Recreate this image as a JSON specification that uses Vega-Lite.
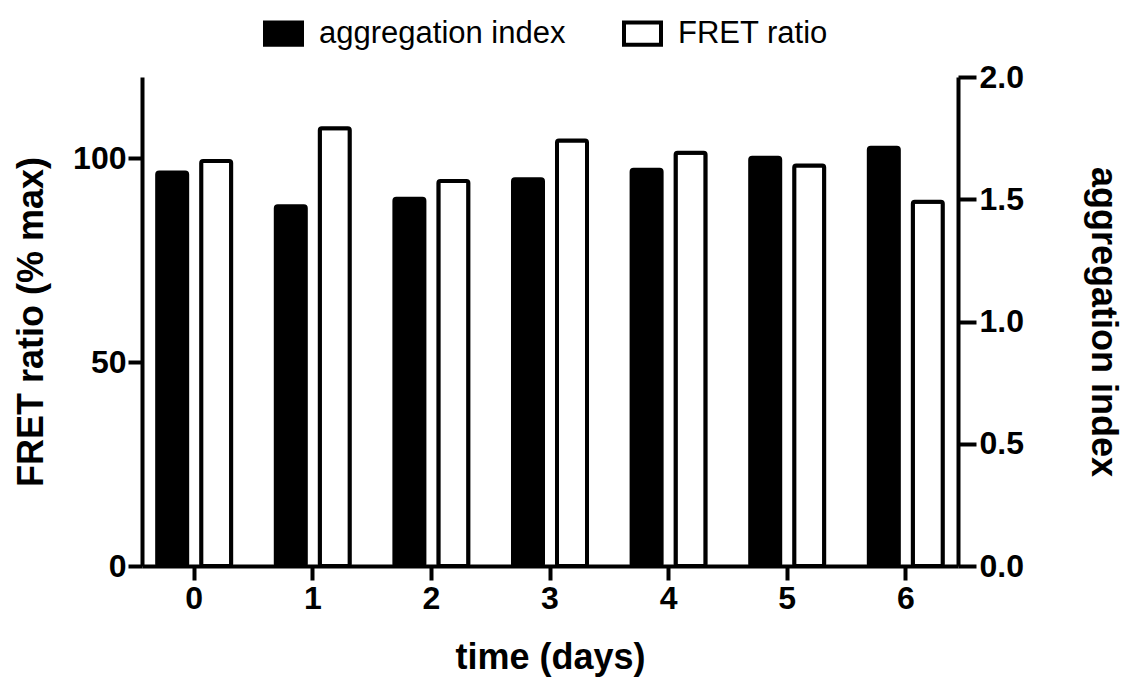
{
  "$schema": "https://vega.github.io/schema/vega-lite/v6.json",
  "autosize": {"type": "none"},
  "width": 816,
  "height": 489,
  "padding": {"left": 142, "top": 77, "right": 173, "bottom": 116},
  "background": "white",
  "config": {
    "view": {"stroke": null},
    "font": "Liberation Sans",
    "axis": {
      "domainColor": "black",
      "domainWidth": 4,
      "tickColor": "black",
      "tickWidth": 4,
      "tickSize": 14,
      "grid": false,
      "labelFont": "Liberation Sans",
      "labelFontWeight": "bold",
      "labelFontSize": 32,
      "labelColor": "black",
      "titleFont": "Liberation Sans",
      "titleFontWeight": "bold",
      "titleFontSize": 36,
      "titleColor": "black"
    },
    "legend": {
      "labelFont": "Liberation Sans",
      "labelFontSize": 31,
      "labelColor": "black",
      "labelLimit": 0,
      "symbolStrokeColor": "black",
      "symbolStrokeWidth": 4,
      "padding": 0
    }
  },
  "data": {
    "values": [
      {"day": 0, "series": "aggregation index", "value": 1.609},
      {"day": 1, "series": "aggregation index", "value": 1.471},
      {"day": 2, "series": "aggregation index", "value": 1.502},
      {"day": 3, "series": "aggregation index", "value": 1.582},
      {"day": 4, "series": "aggregation index", "value": 1.621},
      {"day": 5, "series": "aggregation index", "value": 1.670},
      {"day": 6, "series": "aggregation index", "value": 1.711},
      {"day": 0, "series": "FRET ratio", "value": 99.4},
      {"day": 1, "series": "FRET ratio", "value": 107.4},
      {"day": 2, "series": "FRET ratio", "value": 94.5},
      {"day": 3, "series": "FRET ratio", "value": 104.4},
      {"day": 4, "series": "FRET ratio", "value": 101.4},
      {"day": 5, "series": "FRET ratio", "value": 98.3},
      {"day": 6, "series": "FRET ratio", "value": 89.4}
    ]
  },
  "encoding": {
    "x": {
      "field": "day",
      "type": "ordinal",
      "scale": {"paddingInner": 0.376, "paddingOuter": 0.128},
      "axis": {"title": "time (days)", "labelAngle": 0, "labelPadding": 3, "titlePadding": 26}
    },
    "xOffset": {
      "field": "series",
      "type": "nominal",
      "scale": {"domain": ["aggregation index", "FRET ratio"], "paddingInner": 0.318, "paddingOuter": 0}
    },
    "fill": {
      "field": "series",
      "type": "nominal",
      "scale": {"domain": ["aggregation index", "FRET ratio"], "range": ["black", "white"]},
      "legend": {
        "title": null,
        "orient": "none",
        "direction": "horizontal",
        "legendX": 121,
        "legendY": -64,
        "symbolType": "M-1,-0.6H1V0.6H-1Z",
        "symbolSize": 1369,
        "symbolOpacity": 1,
        "labelOffset": 15,
        "columnPadding": 50
      }
    }
  },
  "layer": [
    {
      "transform": [{"filter": "datum.series === 'FRET ratio'"}],
      "mark": {"type": "bar", "stroke": "black", "strokeWidth": 4, "cornerRadius": 2},
      "encoding": {
        "y": {
          "field": "value",
          "type": "quantitative",
          "scale": {"domain": [0, 120], "nice": false},
          "axis": {"title": "FRET ratio (% max)", "values": [0, 50, 100], "labelPadding": 2, "titlePadding": 22}
        }
      }
    },
    {
      "transform": [{"filter": "datum.series === 'aggregation index'"}],
      "mark": {"type": "bar", "stroke": "black", "strokeWidth": 4, "cornerRadius": 2},
      "encoding": {
        "y": {
          "field": "value",
          "type": "quantitative",
          "scale": {"domain": [0, 2], "nice": false},
          "axis": {"title": "aggregation index", "orient": "right", "values": [0, 0.5, 1, 1.5, 2], "format": ".1f", "tickSize": 18, "labelPadding": 3, "titlePadding": 60}
        }
      }
    }
  ],
  "resolve": {"scale": {"y": "independent"}}
}
